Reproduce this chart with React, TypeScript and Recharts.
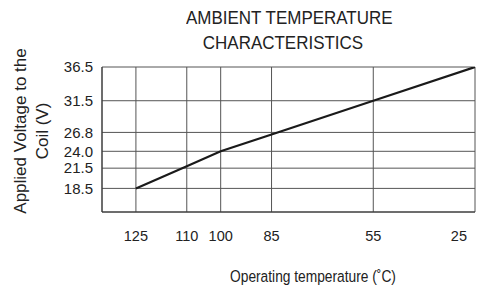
import React from 'react';
import { LineChart, Line, XAxis, YAxis, CartesianGrid, Label } from 'recharts';

// Operating temperature (°C) and applied voltage (V)
const temps = [125, 110, 100, 85, 55, 25];
const voltages = [18.5, 21.8, 24.0, 26.5, 31.5, 36.5];

const xTicks = [125, 110, 100, 85, 55, 25];
const yTicks = [18.5, 21.5, 24.0, 26.8, 31.5, 36.5];

const titleLines = ['AMBIENT TEMPERATURE', 'CHARACTERISTICS'];
const yLabelLines = ['Applied Voltage to the', 'Coil (V)'];
const xLabel = 'Operating temperature (˚C)';

const data = temps.map((t, i) => ({ temp: t, volt: voltages[i] }));

const FONT = "'Liberation Sans', Arial, sans-serif";

// last tick sits on the right border, so keep its label inside the frame
const XTick = (props: any) => {
  const { x, y, payload, index } = props;
  const last = index === xTicks.length - 1;
  return (
    <text
      x={last ? x - 8 : x}
      y={y}
      dy="0.71em"
      textAnchor={last ? 'end' : 'middle'}
      fill="#222"
      fontSize={14.5}
      fontFamily={FONT}
    >
      {payload.value}
    </text>
  );
};

export default function App() {
  return (
    <div style={{ position: 'absolute', left: 0, top: 0, width: 477, height: 301, background: '#fff', fontFamily: FONT }}>
      <div
        style={{
          position: 'absolute',
          left: 183,
          top: 6,
          width: 200,
          textAlign: 'center',
          fontSize: 17.5,
          lineHeight: '25px',
          color: '#222',
          whiteSpace: 'nowrap',
          transform: 'scaleX(0.97)',
        }}
      >
        {titleLines.map((l) => (
          <div key={l}>{l}</div>
        ))}
      </div>
      <LineChart
        width={477}
        height={301}
        data={data}
        margin={{ top: 67, right: 2, bottom: 0, left: 0 }}
        style={{ position: 'absolute', left: 0, top: 0 }}
      >
        <CartesianGrid stroke="#555" strokeWidth={1} />
        <XAxis
          dataKey="temp"
          type="number"
          domain={[25, 135]}
          reversed
          ticks={xTicks}
          interval={0}
          height={89}
          tickSize={0}
          tickMargin={19}
          tickLine={false}
          axisLine={{ stroke: '#333' }}
          tick={<XTick />}
          allowDataOverflow
        >
          <Label
            content={() => (
              <text
                x={313}
                y={282}
                textAnchor="middle"
                fill="#222"
                fontSize={17}
                fontFamily={FONT}
                transform="translate(313,0) scale(0.81,1) translate(-313,0)"
              >
                {xLabel}
              </text>
            )}
          />
        </XAxis>
        <YAxis
          type="number"
          domain={[15, 36.5]}
          ticks={yTicks}
          interval={0}
          width={102}
          tickSize={0}
          tickMargin={9}
          tickLine={false}
          axisLine={{ stroke: '#333' }}
          tickFormatter={(v: number) => v.toFixed(1)}
          tick={{ fill: '#222', fontSize: 15, fontFamily: FONT }}
          allowDataOverflow
        >
          <Label
            content={() => (
              <g>
                {yLabelLines.map((l, i) => (
                  <text
                    key={l}
                    x={20 + i * 22}
                    y={131}
                    transform={`rotate(-90, ${20 + i * 22}, 131)`}
                    textAnchor="middle"
                    dominantBaseline="central"
                    fill="#222"
                    fontSize={17}
                    fontFamily={FONT}
                  >
                    {l}
                  </text>
                ))}
              </g>
            )}
          />
        </YAxis>
        <Line
          type="linear"
          dataKey="volt"
          stroke="#1a1a1a"
          strokeWidth={2.2}
          dot={false}
          isAnimationActive={false}
        />
      </LineChart>
    </div>
  );
}
